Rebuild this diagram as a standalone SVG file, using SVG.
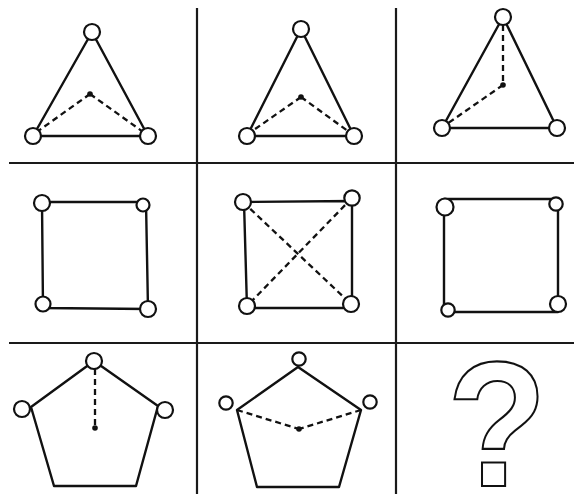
<svg xmlns="http://www.w3.org/2000/svg" width="574" height="494" viewBox="0 0 574 494">
<style>
.g{stroke:#1a1a1a;stroke-width:2.2;fill:none}
.s{stroke:#111;stroke-width:2.4;fill:none;stroke-linejoin:round}
.d{stroke:#111;stroke-width:2.3;fill:none;stroke-dasharray:6 4}
.c{stroke:#111;stroke-width:2.2;fill:#fff}
.p{fill:#111}
</style>
<rect width="574" height="494" fill="#fff"/>
<g id="grid">
<line class="g" x1="197" y1="8" x2="197" y2="494"/>
<line class="g" x1="396" y1="8" x2="396" y2="494"/>
<line class="g" x1="9" y1="163" x2="574" y2="163"/>
<line class="g" x1="9" y1="343" x2="574" y2="343"/>
</g>
<g id="connectors">
<line class="d" x1="90" y1="94" x2="34" y2="134"/>
<line class="d" x1="90" y1="94" x2="146" y2="134"/>
<line class="d" x1="301" y1="97" x2="248" y2="134"/>
<line class="d" x1="301" y1="97" x2="352" y2="134"/>
<line class="d" x1="503" y1="25" x2="503" y2="85"/>
<line class="d" x1="503" y1="85" x2="444" y2="126"/>
<line class="d" x1="243" y1="202" x2="351" y2="304"/>
<line class="d" x1="352" y1="198" x2="247" y2="306"/>
<line class="d" x1="95" y1="369" x2="95" y2="428"/>
<line class="d" x1="237" y1="410" x2="299" y2="429"/>
<line class="d" x1="361" y1="410" x2="299" y2="429"/>
</g>
<g id="cell1">
<polygon class="s" points="92,32 148,136 33,136"/>
<circle class="p" cx="90" cy="94" r="2.8"/>
<circle class="c" cx="92" cy="32" r="8"/>
<circle class="c" cx="33" cy="136" r="8"/>
<circle class="c" cx="148" cy="136" r="8"/>
</g>
<g id="cell2">
<polygon class="s" points="301,29 354,136 247,136"/>
<circle class="p" cx="301" cy="97" r="2.8"/>
<circle class="c" cx="301" cy="29" r="8"/>
<circle class="c" cx="247" cy="136" r="8"/>
<circle class="c" cx="354" cy="136" r="8"/>
</g>
<g id="cell3">
<polygon class="s" points="503,17 557,128 442,128"/>
<circle class="p" cx="503" cy="85" r="2.8"/>
<circle class="c" cx="503" cy="17" r="8"/>
<circle class="c" cx="442" cy="128" r="8"/>
<circle class="c" cx="557" cy="128" r="8"/>
</g>
<g id="cell4">
<polygon class="s" points="42,202 146,202 148,309 43,308"/>
<circle class="c" cx="42" cy="203" r="8"/>
<circle class="c" cx="143" cy="205" r="6.5"/>
<circle class="c" cx="43" cy="304" r="7.5"/>
<circle class="c" cx="148" cy="309" r="8"/>
</g>
<g id="cell5">
<polygon class="s" points="244,202 352,201 352,308 247,308"/>
<circle class="c" cx="243" cy="202" r="8"/>
<circle class="c" cx="352" cy="198" r="7.7"/>
<circle class="c" cx="247" cy="306" r="8"/>
<circle class="c" cx="351" cy="304" r="8"/>
</g>
<g id="cell6">
<polygon class="s" points="444,199 558,199 558,312 444,312"/>
<circle class="c" cx="445" cy="207" r="8.5"/>
<circle class="c" cx="556" cy="204" r="6.7"/>
<circle class="c" cx="448" cy="310" r="6.7"/>
<circle class="c" cx="558" cy="304" r="8"/>
</g>
<g id="cell7">
<polygon class="s" points="94,361 158,406 136,486 54,486 31,407"/>
<circle class="p" cx="95" cy="428" r="2.8"/>
<circle class="c" cx="94" cy="361" r="8"/>
<circle class="c" cx="22" cy="409" r="8"/>
<circle class="c" cx="165" cy="410" r="8"/>
</g>
<g id="cell8">
<polygon class="s" points="298,367 361,410 339,487 257,487 237,410"/>
<circle class="p" cx="299" cy="429" r="2.8"/>
<circle class="c" cx="299" cy="359" r="6.7"/>
<circle class="c" cx="226" cy="403" r="6.7"/>
<circle class="c" cx="370" cy="402" r="6.7"/>
</g>
<g id="cell9">
<text transform="translate(497,486) scale(0.92,1)" x="0" y="0" text-anchor="middle" font-family="Liberation Sans, Arial, sans-serif" font-weight="bold" font-size="178" fill="#fff" stroke="#111" stroke-width="2.2">?</text>
</g>
</svg>
